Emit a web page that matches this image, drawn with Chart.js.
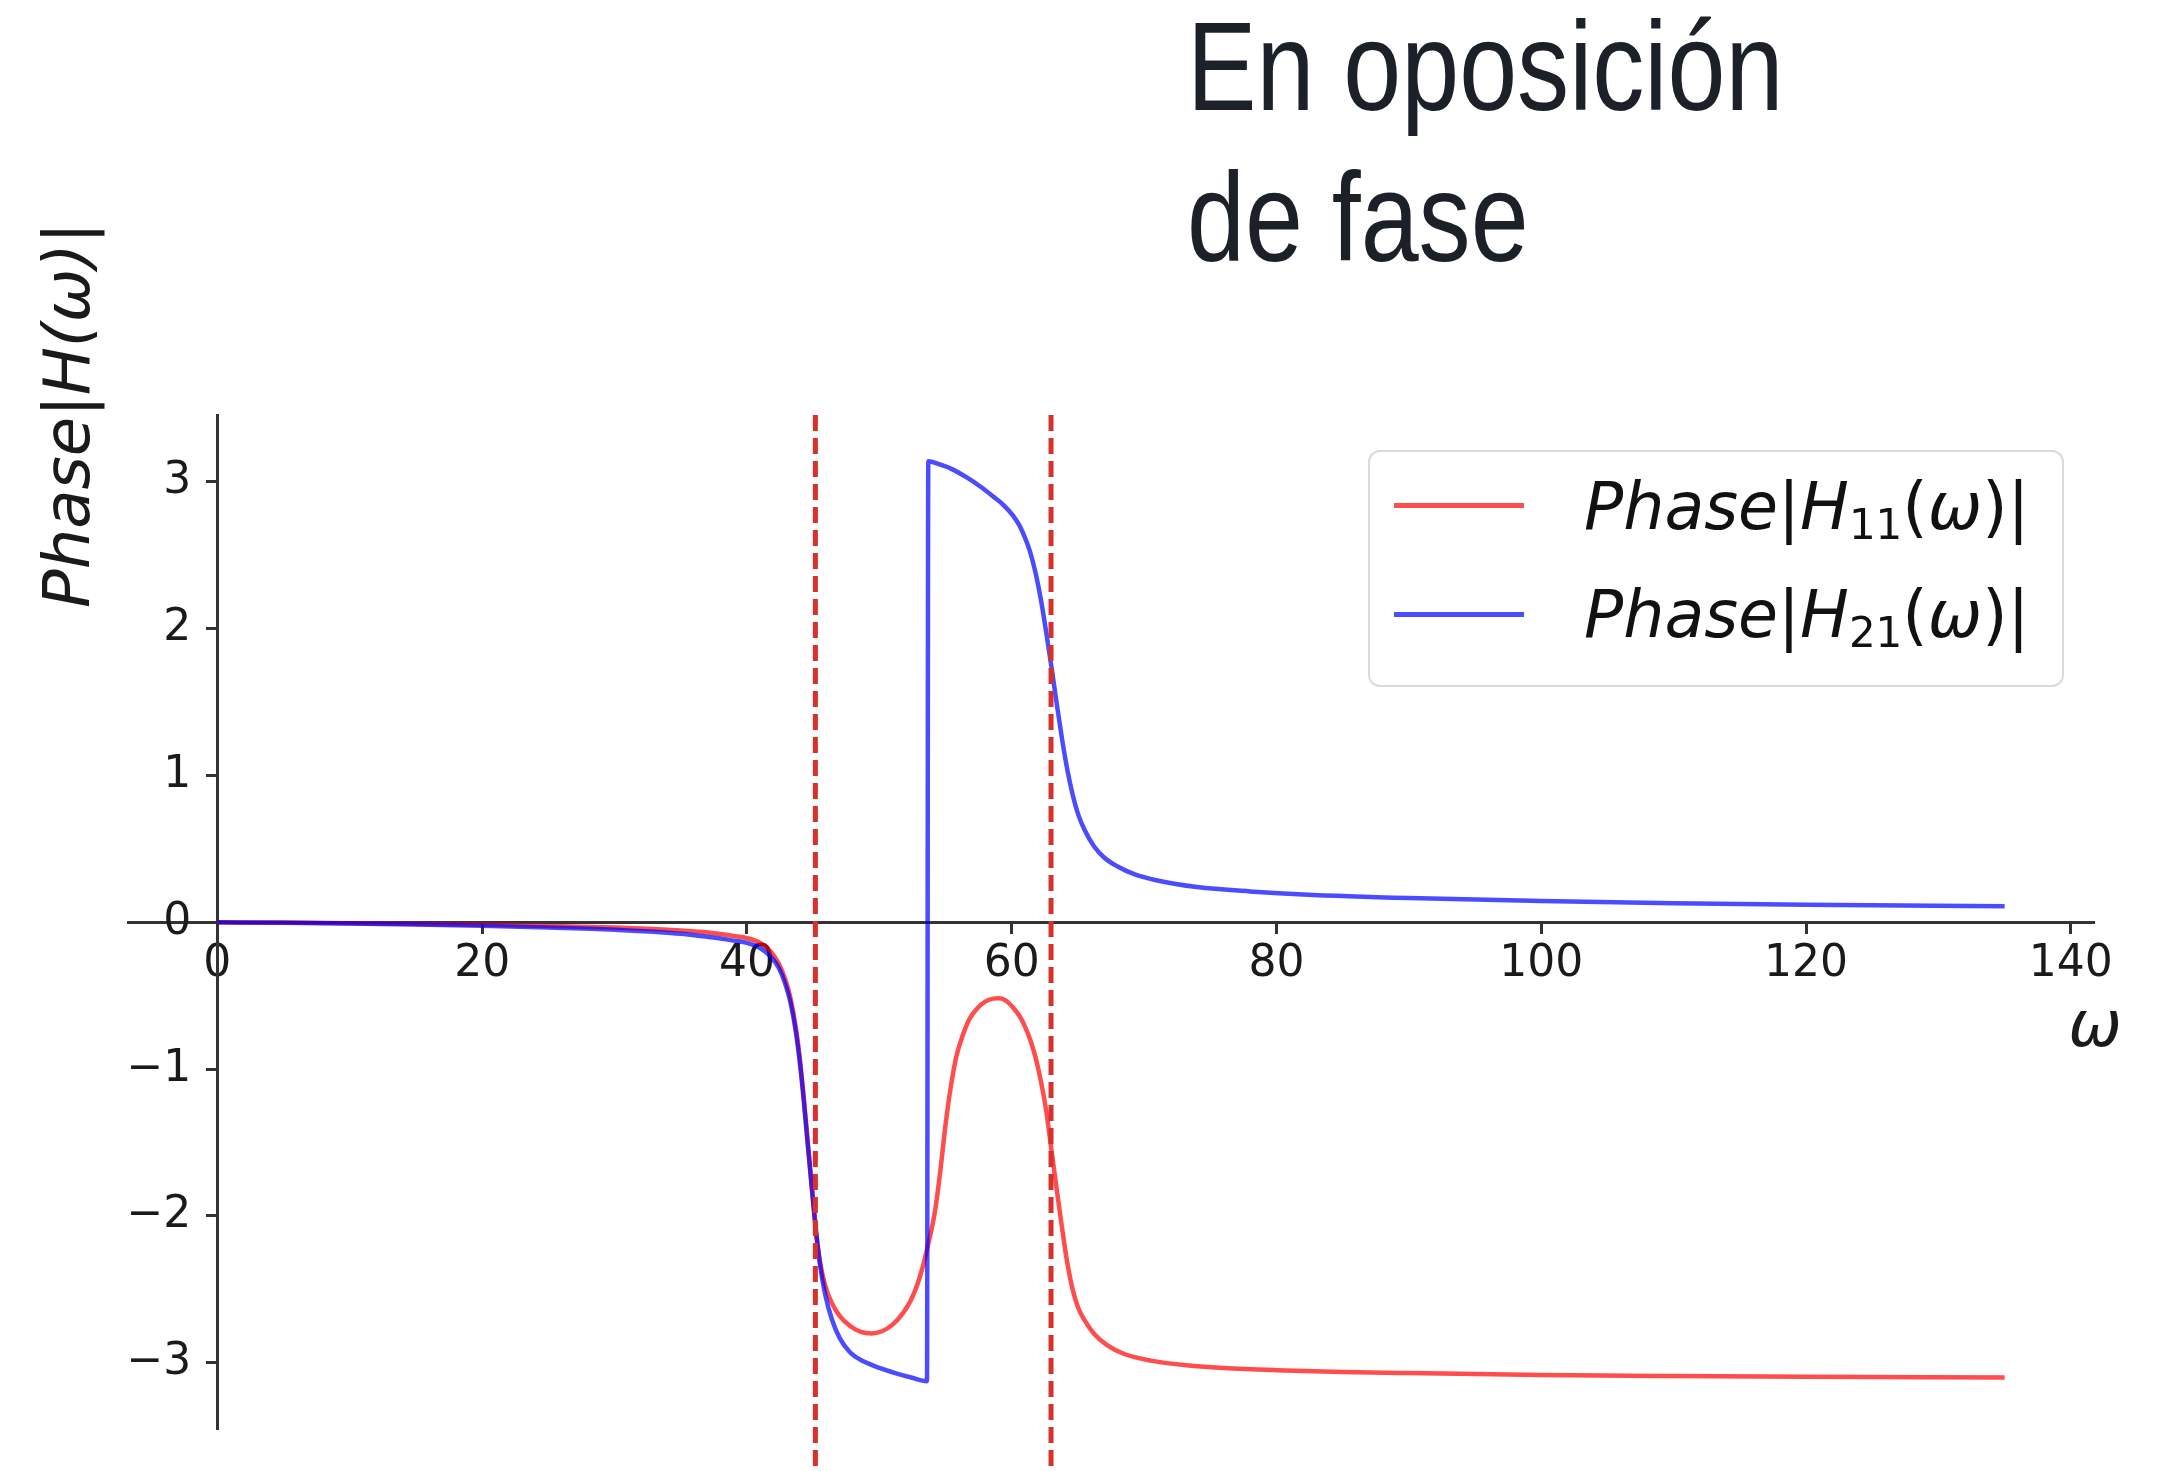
<!DOCTYPE html>
<html lang="es">
<head>
<meta charset="utf-8">
<title>En oposición de fase</title>
<script src="https://cdn.jsdelivr.net/npm/chart.js"></script>
<style>
  html, body { margin: 0; padding: 0; background: #fff; }
  #wrap { position: relative; width: 2166px; height: 1471px; overflow: hidden; background: #fff; }
  #faseChart { position: absolute; left: 0; top: 0; }
  .titulo {
    position: absolute; left: 1187px; top: -9px;
    font-family: 'Liberation Sans', Arial, sans-serif; font-size: 127px; line-height: 151px;
    color: #1b2029; transform: scaleX(0.82); transform-origin: left top; white-space: nowrap;
  }
  .leyenda {
    position: absolute; left: 1368px; top: 450px; width: 696px; height: 237px;
    box-sizing: border-box; border: 2px solid #dadada; border-radius: 12px; background: rgba(255,255,255,0.8);
  }
  .muestra { position: absolute; left: 24px; width: 130px; height: 5px; }
  .texto {
    position: absolute; left: 214px; font-family: 'DejaVu Sans', sans-serif;
    font-size: 65px; line-height: 76px; color: #111; white-space: nowrap;
  }
  .texto i { font-style: italic; }
  .texto sub { font-size: 42px; vertical-align: baseline; position: relative; top: 10px; }
</style>
</head>
<body>
<div id="wrap">
  <canvas id="faseChart" width="2166" height="1471"></canvas>
  <div class="titulo">En oposición<br>de fase</div>
  <div class="leyenda">
    <div class="muestra" style="top:51px; background: rgba(255,0,0,0.7);"></div>
    <div class="texto" style="top:17px;"><i>Phase</i>|<i>H</i><sub>11</sub>(<i>ω</i>)|</div>
    <div class="muestra" style="top:160px; background: rgba(0,0,255,0.7);"></div>
    <div class="texto" style="top:125px;"><i>Phase</i>|<i>H</i><sub>21</sub>(<i>ω</i>)|</div>
  </div>
</div>
<script>
// Datos
const omegaH11 = [0, 5, 10, 15, 20, 25, 30, 33, 35, 36.5, 38, 39, 40, 41, 41.8, 42.4, 42.9, 43.3, 43.7, 44, 44.3,
  44.6, 44.9, 45.2, 45.5, 45.9, 46.4, 47, 47.8, 48.6, 49.4, 50.2, 51, 51.8, 52.4, 52.9, 53.3, 53.7, 54.2, 54.6,
  55, 55.4, 55.8, 56.3, 56.8, 57.4, 58, 58.6, 59, 59.5, 60.1, 60.6, 61, 61.4, 61.8, 62.2, 62.6, 63, 63.4, 63.8,
  64.2, 64.6, 65, 65.5, 66.2, 67.2, 68.5, 70.5, 73, 76, 80, 85, 90, 100, 110, 120, 135];
const faseH11 = [0, -0.002, -0.006, -0.011, -0.017, -0.025, -0.035, -0.045, -0.055, -0.065, -0.08, -0.093, -0.108,
  -0.14, -0.2, -0.28, -0.39, -0.52, -0.72, -0.93, -1.2, -1.5, -1.8, -2.1, -2.3, -2.47, -2.59, -2.68, -2.75, -2.79,
  -2.8, -2.785, -2.74, -2.66, -2.57, -2.46, -2.34, -2.19, -1.97, -1.7, -1.38, -1.12, -0.92, -0.77, -0.66, -0.585,
  -0.54, -0.52, -0.518, -0.53, -0.58, -0.64, -0.71, -0.8, -0.92, -1.08, -1.28, -1.55, -1.82, -2.08, -2.32, -2.5,
  -2.62, -2.71, -2.8, -2.88, -2.94, -2.985, -3.015, -3.035, -3.05, -3.062, -3.07, -3.083, -3.09, -3.095, -3.1];

const omegaH21 = [0, 5, 10, 15, 20, 25, 30, 33, 35, 36.5, 38, 39, 40, 41, 41.8, 42.4, 42.9, 43.3, 43.7, 44, 44.3,
  44.6, 44.9, 45.2, 45.5, 45.9, 46.4, 47, 47.8, 48.8, 50, 51.2, 52.4, 53.6, 53.7, 54.5, 55.4, 56.6, 57.6, 58.6,
  59.4, 60.1, 60.6, 61, 61.4, 61.8, 62.2, 62.6, 63, 63.4, 63.8, 64.2, 64.6, 65, 65.5, 66.2, 67, 68, 69.2, 71, 74,
  78, 82, 90, 100, 110, 120, 135];
const faseH21 = [0, -0.003, -0.008, -0.015, -0.024, -0.035, -0.05, -0.065, -0.078, -0.093, -0.11, -0.125, -0.14,
  -0.175, -0.235, -0.31, -0.42, -0.55, -0.75, -0.96, -1.22, -1.52, -1.81, -2.08, -2.32, -2.53, -2.7, -2.83, -2.93,
  -2.99, -3.035, -3.07, -3.1, -3.125, 3.14, 3.12, 3.09, 3.03, 2.97, 2.9, 2.84, 2.77, 2.7, 2.62, 2.52, 2.38, 2.2,
  1.98, 1.74, 1.49, 1.25, 1.04, 0.87, 0.74, 0.63, 0.52, 0.44, 0.38, 0.33, 0.285, 0.24, 0.21, 0.19, 0.165, 0.145,
  0.13, 0.12, 0.11];

const resonancias = [45.17, 62.97];
const ticksX = [0, 20, 40, 60, 80, 100, 120, 140];
const ticksY = [-3, -2, -1, 0, 1, 2, 3];
const etiquetaY = 'Phase|H(ω)|';
const etiquetaX = 'ω';

const aPuntos = (xs, ys) => xs.map((x, i) => ({ x: x, y: ys[i] }));

// Líneas verticales discontinuas en las resonancias
const lineasResonancia = resonancias.map(w => ({
  label: 'ω = ' + w,
  data: [{ x: w, y: 3.455 }, { x: w, y: -3.76 }],
  borderColor: '#d8312c',
  borderWidth: 5,
  borderDash: [16, 7],
  pointRadius: 0,
  clip: false,
  order: 0
}));

// Las etiquetas del eje y quedan pegadas al eje cuando se posiciona en x = 0; se apartan un poco
const separaTicksY = {
  id: 'separaTicksY',
  beforeDraw(chart) {
    chart.scales.y.getLabelItems().forEach(item => {
      if (item.separado) return;
      if (item.options && item.options.translation) item.options.translation[0] -= 26;
      else if ('x' in item) item.x -= 26;
      item.separado = true;
    });
  }
};

// Etiquetas de los ejes
const etiquetasEjes = {
  id: 'etiquetasEjes',
  afterDraw(chart) {
    const { ctx, scales: { x, y } } = chart;
    ctx.save();
    ctx.fillStyle = '#1a1a1a';
    ctx.font = 'italic 64px "DejaVu Sans"';
    ctx.textAlign = 'center';
    ctx.textBaseline = 'alphabetic';
    ctx.fillText(etiquetaX, x.right + 1, y.getPixelForValue(0) + 124);
    ctx.translate(x.getPixelForValue(0) - 128, y.top);
    ctx.rotate(-Math.PI / 2);
    ctx.fillText(etiquetaY, 0, 0);
    ctx.restore();
  }
};

const ctx = document.getElementById('faseChart').getContext('2d');
const faseChart = new Chart(ctx, {
  type: 'line',
  data: {
    datasets: [
      ...lineasResonancia,
      {
        label: 'Phase|H21(ω)|',
        data: aPuntos(omegaH21, faseH21),
        borderColor: 'rgba(0, 0, 255, 0.7)',
        borderWidth: 4.5,
        pointRadius: 0,
        cubicInterpolationMode: 'monotone',
        order: 1
      },
      {
        label: 'Phase|H11(ω)|',
        data: aPuntos(omegaH11, faseH11),
        borderColor: 'rgba(255, 0, 0, 0.7)',
        borderWidth: 4.5,
        pointRadius: 0,
        cubicInterpolationMode: 'monotone',
        order: 2
      }
    ]
  },
  options: {
    responsive: false,
    animation: false,
    devicePixelRatio: 1,
    layout: { padding: { left: 128, right: 72, top: 415, bottom: 39 } },
    plugins: { legend: { display: false }, tooltip: { enabled: false }, title: { display: false } },
    scales: {
      x: {
        type: 'linear',
        position: { y: 0 },
        min: -6.75,
        max: 141.75,
        afterBuildTicks: (scale) => { scale.ticks = ticksX.map(v => ({ value: v })); },
        grid: { drawOnChartArea: false, drawTicks: true, tickLength: 10, tickColor: '#333', tickWidth: 3 },
        border: { display: true, color: '#333', width: 3 },
        ticks: {
          color: '#1a1a1a',
          padding: 6,
          maxRotation: 0,
          autoSkip: false,
          font: { family: 'DejaVu Sans', size: 44 },
          callback: (v) => String(v)
        }
      },
      y: {
        type: 'linear',
        position: { x: 0 },
        min: -3.455,
        max: 3.455,
        afterBuildTicks: (scale) => { scale.ticks = ticksY.map(v => ({ value: v })); },
        grid: { drawOnChartArea: false, drawTicks: true, tickLength: 10, tickColor: '#333', tickWidth: 3 },
        border: { display: true, color: '#333', width: 3 },
        ticks: {
          color: '#1a1a1a',
          padding: 15,
          autoSkip: false,
          font: { family: 'DejaVu Sans', size: 44 },
          callback: (v) => (v < 0 ? '\u2212' + Math.abs(v) : String(v))
        }
      }
    }
  },
  plugins: [separaTicksY, etiquetasEjes]
});
</script>
</body>
</html>
